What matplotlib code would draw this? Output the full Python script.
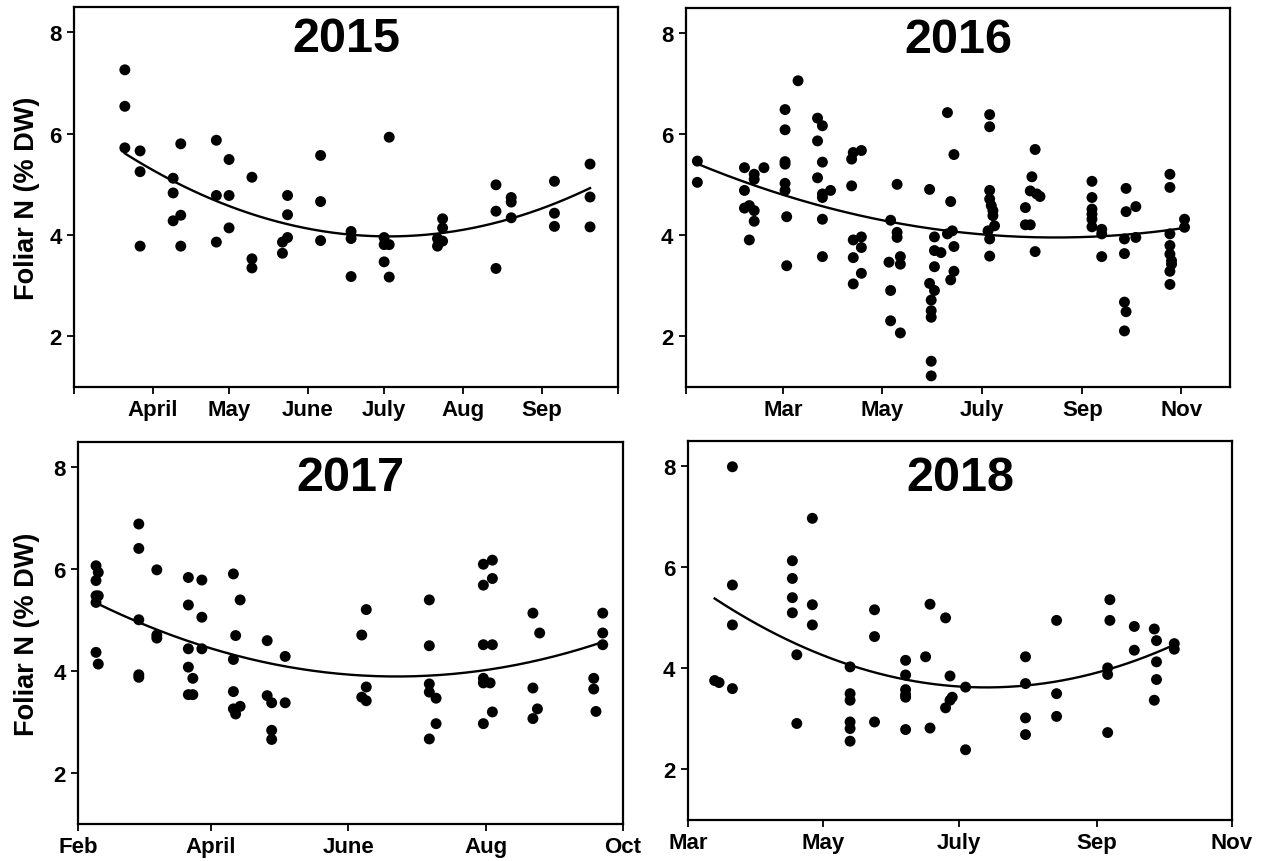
import numpy as np
import matplotlib
matplotlib.use("Agg")
import matplotlib.pyplot as plt

plt.rcParams['font.family'] = ['Liberation Sans', 'DejaVu Sans']
plt.rcParams['font.weight'] = 'bold'

# ---- data (x = day of year, y = foliar N % DW) ----
doy_2015 = [80, 80, 80, 86, 86, 86, 99, 99, 99, 102, 102, 102, 116, 116, 116, 121, 121, 121,
            130, 130, 130, 142, 142, 144, 144, 144, 157, 157, 157, 169, 169, 169,
            182, 182, 184, 182, 184, 184, 203, 203, 205, 205, 205, 226, 226, 226,
            232, 232, 232, 249, 249, 249, 263, 263, 263]
n_2015 = [7.26, 6.54, 5.72, 5.66, 5.25, 3.78, 5.12, 4.83, 4.28, 5.80, 4.39, 3.78, 5.87, 4.78, 3.86,
          5.49, 4.78, 4.14, 5.14, 3.53, 3.35, 3.86, 3.64, 4.78, 4.40, 3.95, 5.57, 4.66, 3.89,
          4.07, 3.93, 3.18, 3.95, 3.81, 3.81, 3.47, 3.17, 5.93, 3.78, 3.93, 3.88, 4.14, 4.32,
          4.99, 4.47, 3.34, 4.74, 4.65, 4.34, 5.06, 4.43, 4.17, 5.40, 4.75, 4.16]

doy_2016 = [8, 8, 37, 37, 37, 40, 40, 43, 43, 43, 43, 49, 62, 62, 62, 62, 62, 62, 63, 63, 70,
            82, 85, 82, 85, 82, 85, 85, 85, 85, 90, 103, 104, 109, 103, 104, 109, 109, 104, 109, 104,
            127, 131, 131, 131, 126, 133, 133, 127, 127, 133,
            151, 154, 154, 158, 154, 151, 154, 152, 152, 152, 152, 152,
            162, 166, 164, 162, 165, 166, 166, 164,
            188, 188, 188, 188, 189, 190, 190, 191, 187, 188, 188,
            216, 214, 213, 217, 219, 210, 210, 213, 216,
            251, 251, 251, 251, 251, 251, 257, 257, 257,
            272, 272, 278, 271, 278, 271, 271, 272, 271,
            299, 299, 299, 299, 299, 300, 300, 299, 299, 308, 308]
n_2016 = [5.47, 5.05, 5.34, 4.89, 4.54, 4.59, 3.91, 5.21, 5.11, 4.49, 4.28, 5.34, 6.49, 6.09, 5.46,
          5.41, 5.03, 4.89, 4.37, 3.40, 7.06,
          6.32, 6.17, 5.87, 5.45, 5.14, 4.82, 4.75, 4.32, 3.58, 4.89,
          5.51, 5.64, 5.68, 4.98, 3.91, 3.97, 3.76, 3.56, 3.25, 3.04,
          4.30, 5.01, 4.06, 3.96, 3.47, 3.58, 3.43, 2.91, 2.31, 2.07,
          4.91, 3.97, 3.70, 3.66, 3.38, 3.05, 2.91, 2.72, 2.51, 2.38, 1.51, 1.22,
          6.43, 5.60, 4.67, 4.03, 4.09, 3.78, 3.29, 3.12,
          6.39, 6.15, 4.89, 4.72, 4.59, 4.49, 4.39, 4.19, 4.09, 3.93, 3.59,
          5.70, 5.16, 4.88, 4.82, 4.77, 4.55, 4.21, 4.21, 3.68,
          5.07, 4.75, 4.52, 4.42, 4.32, 4.17, 4.12, 4.03, 3.58,
          4.93, 4.47, 4.57, 3.93, 3.96, 3.64, 2.68, 2.49, 2.11,
          5.21, 4.95, 4.03, 3.80, 3.63, 3.50, 3.43, 3.29, 3.03, 4.32, 4.16]

doy_2017 = [40, 40, 40, 40, 41, 41, 40, 41, 59, 59, 59, 59, 59, 67, 67, 67,
            81, 81, 81, 81, 83, 81, 83, 87, 87, 87,
            101, 101, 101, 101, 102, 104, 104, 102, 116, 116, 118, 118, 118, 124, 124,
            160, 158, 160, 158, 160, 188, 188, 188, 188, 191, 191, 188,
            212, 216, 212, 216, 212, 216, 212, 215, 212, 216, 212,
            234, 237, 234, 236, 234, 265, 265, 265, 261, 261, 262]
n_2017 = [6.07, 5.78, 5.48, 5.35, 5.94, 5.48, 4.37, 4.14, 6.89, 6.41, 5.01, 3.93, 3.88, 5.99, 4.71, 4.65,
          5.84, 5.30, 4.44, 4.08, 3.86, 3.54, 3.54, 5.79, 5.06, 4.44,
          5.91, 4.23, 3.60, 3.26, 3.16, 3.31, 5.40, 4.70, 4.60, 3.52, 3.38, 2.84, 2.66, 4.29, 3.38,
          5.21, 4.71, 3.69, 3.49, 3.42, 5.40, 4.50, 3.75, 3.59, 3.47, 2.97, 2.67,
          6.10, 6.18, 5.69, 5.82, 4.52, 4.52, 3.86, 3.77, 3.77, 3.20, 2.97,
          5.14, 4.75, 3.67, 3.26, 3.07, 5.14, 4.75, 4.52, 3.86, 3.65, 3.21]

doy_2018 = [72, 74, 80, 80, 80, 80, 107, 107, 107, 107, 109, 109, 116, 116, 116,
            133, 133, 133, 133, 133, 133, 144, 144, 144, 158, 158, 158, 158, 158, 158,
            169, 167, 169, 176, 178, 176, 178, 179, 185, 185,
            212, 212, 212, 212, 226, 226, 226, 250, 250, 249, 249, 249,
            261, 261, 270, 271, 271, 271, 270, 279, 279]
n_2018 = [3.76, 3.72, 7.99, 5.65, 4.86, 3.60, 6.13, 5.78, 5.40, 5.10, 4.27, 2.91, 6.97, 5.26, 4.86,
          4.03, 3.50, 3.37, 2.94, 2.81, 2.56, 5.16, 4.63, 2.94, 4.16, 3.87, 3.58, 3.48, 3.43, 2.79,
          5.27, 4.23, 2.82, 5.00, 3.85, 3.22, 3.37, 3.43, 3.63, 2.39,
          4.23, 3.70, 3.02, 2.69, 4.95, 3.50, 3.05, 5.36, 4.95, 4.01, 3.88, 2.73,
          4.83, 4.36, 4.78, 4.55, 4.13, 3.78, 3.37, 4.49, 4.38]

years = ['2015', '2016', '2017', '2018']
xdata = [doy_2015, doy_2016, doy_2017, doy_2018]
ydata = [n_2015, n_2016, n_2017, n_2018]

tick_doy = [[60, 91, 121, 152, 182, 213, 244, 274],
            [1, 61, 122, 183, 245, 306],
            [32, 91, 152, 213, 274],
            [60, 121, 182, 244, 305]]
tick_lab = [['', 'April', 'May', 'June', 'July', 'Aug', 'Sep', ''],
            ['', 'Mar', 'May', 'July', 'Sep', 'Nov'],
            ['Feb', 'April', 'June', 'Aug', 'Oct'],
            ['Mar', 'May', 'July', 'Sep', 'Nov']]
xlims = [(60, 274), (1, 336), (32, 274), (60, 305)]

W, H = 1261, 862
fig = plt.figure(figsize=(W / 100, H / 100), dpi=100)
# pixel boxes: left, top, right, bottom
boxes = [(74, 8, 618, 388), (686, 9, 1230, 388), (78, 443, 623, 825), (688, 442, 1232, 821)]
title_y = [0.918, 0.916, 0.908, 0.904]

for i in range(4):
    l, t, r, b = boxes[i]
    ax = fig.add_axes([l / W, (H - b) / H, (r - l) / W, (b - t) / H])
    x = np.array(xdata[i], float)
    y = np.array(ydata[i], float)
    ax.scatter(x, y, s=62, color='black', edgecolors='none', zorder=3)
    c = np.polyfit(x, y, 2)
    xf = np.linspace(x.min(), x.max(), 200)
    ax.plot(xf, np.polyval(c, xf), color='black', lw=1.7, zorder=2)
    ax.set_xlim(*xlims[i])
    ax.set_ylim(1, 8.5)
    ax.set_yticks([2, 4, 6, 8])
    ax.set_xticks(tick_doy[i])
    ax.set_xticklabels(tick_lab[i])
    for s in ax.spines.values():
        s.set_linewidth(1.6)
    ax.tick_params(direction='out', length=5, width=1.3, labelsize=16, pad=4)
    for lab in ax.get_xticklabels() + ax.get_yticklabels():
        lab.set_fontweight('bold')
    ax.text(0.5, title_y[i], years[i], transform=ax.transAxes, ha='center', va='center',
            fontsize=35, fontweight='bold')
    if i in (0, 2):
        ax.set_ylabel('Foliar N (% DW)', fontsize=19.5, fontweight='bold')
        ax.yaxis.set_label_coords((40 - l) / (r - l), 0.5)

fig.savefig('out.png', dpi=100)
